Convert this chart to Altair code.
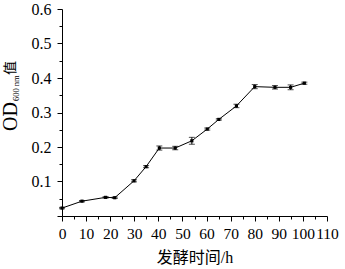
import altair as alt
import pandas as pd

time_h = [0, 8.3, 18.1, 21.9, 29.9, 34.9, 40.4, 47.0, 53.9, 60.3, 65.1, 72.4, 80.0, 88.4, 94.9, 100.6]
od600 = [0.023, 0.043, 0.054, 0.053, 0.102, 0.143, 0.197, 0.197, 0.218, 0.252, 0.280, 0.319, 0.375, 0.373, 0.373, 0.385]
err = [0.002, 0.002, 0.002, 0.002, 0.003, 0.003, 0.006, 0.005, 0.010, 0.003, 0.002, 0.005, 0.006, 0.005, 0.007, 0.003]

x_ticks = list(range(0, 115, 5))
y_ticks = [round(i * 0.05, 2) for i in range(0, 13)]

df = pd.DataFrame({"t": time_h, "od": od600, "err": err})
df["lo"] = df["od"] - df["err"]
df["hi"] = df["od"] + df["err"]

SERIF = "Liberation Serif"
CJK = "Liberation Serif, Noto Sans CJK SC"

xscale = alt.Scale(domain=[0, 110], nice=False, zero=False)
yscale = alt.Scale(domain=[0, 0.6], nice=False)

xaxis = alt.Axis(
    values=x_ticks, tickCount=100,
    labelExpr="datum.value % 10 === 0 ? datum.label : ''",
    tickSize={"condition": {"test": "datum.value % 10 === 0", "value": 5}, "value": 3},
    grid=False, domainColor="#000", tickColor="#000", labelColor="#000",
    labelFont=SERIF, labelFontSize=15.5, labelPadding=5, format="d",
    title="发酵时间/h", titleFont=CJK, titleFontSize=16, titleFontWeight="normal",
    titleColor="#000", titlePadding=8, labelFlush=False, labelOverlap=False,
)
yaxis = alt.Axis(
    values=y_ticks, tickCount=100,
    labelExpr="(round(datum.value*100) % 10 === 0 && datum.value > 0) ? format(datum.value, '.1f') : ''",
    tickSize={"condition": {"test": "round(datum.value*100) % 10 === 0", "value": 5}, "value": 3},
    grid=False, domainColor="#000", tickColor="#000", labelColor="#000",
    labelFont=SERIF, labelFontSize=16, labelPadding=6, title=None, labelFlush=False,
    labelOverlap=False,
)

base = alt.Chart(df)
line = base.mark_line(color="#000", strokeWidth=1).encode(
    x=alt.X("t:Q", scale=xscale, axis=xaxis),
    y=alt.Y("od:Q", scale=yscale, axis=yaxis),
)
pts = base.mark_square(color="#000", size=10, opacity=1).encode(x="t:Q", y="od:Q")
bars = base.mark_rule(color="#000", strokeWidth=1).encode(x="t:Q", y="lo:Q", y2="hi:Q")
cap_lo = base.mark_tick(color="#000", orient="horizontal", size=6, thickness=1).encode(x="t:Q", y="lo:Q")
cap_hi = base.mark_tick(color="#000", orient="horizontal", size=6, thickness=1).encode(x="t:Q", y="hi:Q")

od_txt = alt.Chart(pd.DataFrame({"txt": ["OD"]})).mark_text(
    angle=270, align="left", baseline="alphabetic", font=SERIF, fontSize=20, color="#000").encode(
    text="txt:N", x=alt.value(-45), y=alt.value(122))
sub_txt = alt.Chart(pd.DataFrame({"txt": ["600 nm"]})).mark_text(
    angle=270, align="left", baseline="alphabetic", font=SERIF, fontSize=8.5, color="#000").encode(
    text="txt:N", x=alt.value(-43), y=alt.value(92))
zhi_txt = alt.Chart(pd.DataFrame({"txt": ["值"]})).mark_text(
    angle=270, align="left", baseline="alphabetic", font="Noto Sans CJK SC", fontSize=14, color="#000").encode(
    text="txt:N", x=alt.value(-47), y=alt.value(66))

chart = alt.layer(line, bars, cap_lo, cap_hi, pts, od_txt, sub_txt, zhi_txt).properties(
    width=265, height=207,
    autosize=alt.AutoSizeParams(type="none"),
    padding={"left": 62, "top": 9, "right": 18, "bottom": 53},
    background="white",
).configure_view(stroke=None).configure_axis(labelOverlap=False, labelBound=False)

chart.save("out.html", embed_options={"renderer": "svg", "actions": False})
